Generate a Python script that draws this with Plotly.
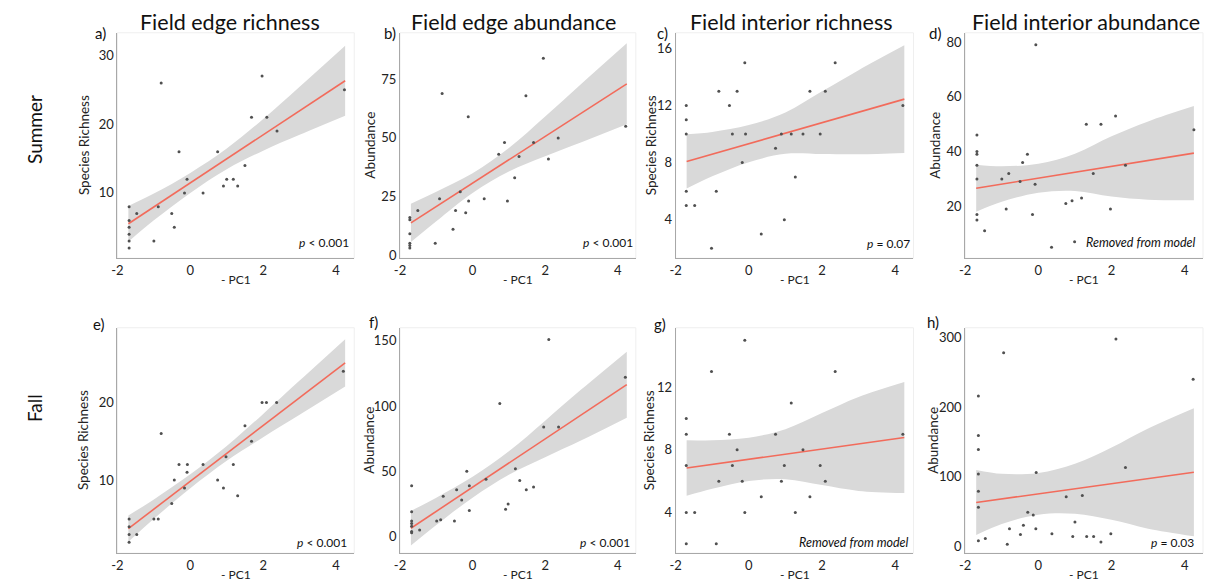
import plotly.graph_objects as go
import numpy as np

W, H = 1207, 586

# ---------------- data ----------------
col_titles = ["Field edge richness", "Field edge abundance",
              "Field interior richness", "Field interior abundance"]
row_titles = ["Summer", "Fall"]
panel_letters = ["a)", "b)", "c)", "d)", "e)", "f)", "g)", "h)"]
y_titles = ["Species Richness", "Abundance", "Species Richness", "Abundance",
            "Species Richness", "Abundance", "Species Richness", "Abundance"]
x_title = "- PC1"
p_labels = ["<i>p</i> < 0.001", "<i>p</i> < 0.001", "<i>p</i> = 0.07", None,
            "<i>p</i> < 0.001", "<i>p</i> < 0.001", None, "<i>p</i> = 0.03"]
removed_label = "<i>Removed from model</i>"
x_ticks = [-2, 0, 2, 4]
x_ticktext = ["-2", "0", "2", "4"]

a_x = [-0.80, 1.97, 1.68, 2.10, 2.38, 4.23, -0.31, 0.75, 1.50, -0.09, 1.00, 1.18, 0.91, 1.30,
       -0.16, 0.35, -1.68, -0.88, -1.47, -0.51, -1.68, -1.68, -0.44, -1.68, -1.68, -1.00, -1.68]
a_y = [26, 27, 21, 21, 19, 25, 16, 16, 14, 12, 12, 12, 11, 11,
       10, 10, 8, 8, 7, 7, 6, 5, 5, 4, 3, 3, 2]

b_x = [1.95, -0.84, 1.47, -0.12, 4.22, 2.36, 0.88, 1.68, 0.72, 1.28, 2.09, 1.16, -0.34, -0.91,
       0.32, -0.11, 0.96, -1.51, -0.47, -0.19, -1.73, -1.73, -1.73, -0.54, -1.03, -1.73, -1.73, -1.73]
b_y = [84, 69, 68, 59, 55, 50, 48, 48, 43, 42, 41, 33, 27, 24,
       24, 23, 23, 19, 19, 18, 16, 15, 9, 11, 5, 5, 4, 3]

c_x = [-0.11, 2.36, -0.82, -0.32, 1.67, 2.09, -1.71, -0.53, 4.21, -1.71, -1.71, -0.45, -0.09, 0.89,
       1.16, 1.48, 1.95, 0.73, -0.18, 1.27, -1.71, -0.89, -1.71, -1.48, 0.97, 0.34, -1.02]
c_y = [15, 15, 13, 13, 13, 13, 12, 12, 12, 11, 10, 10, 10, 10,
       10, 10, 10, 9, 8, 7, 6, 6, 5, 5, 4, 3, 2]

d_x = [-0.07, 2.11, 1.31, 1.71, 4.25, -1.68, -1.68, -1.68, -0.30, -0.43, -1.68, 2.38, -0.81, 1.50,
       -1.68, -1.00, -0.50, -0.09, 1.18, 0.92, 0.75, -0.88, 1.97, -1.68, -0.16, -1.68, -1.47, 0.36, 0.99]
d_y = [79, 53, 50, 50, 48, 46, 40, 39, 39, 36, 35, 35, 32, 32,
       30, 30, 29, 28, 23, 22, 21, 19, 19, 17, 17, 15, 11, 5, 7]

e_x = [4.20, 1.97, 2.09, 2.37, -0.80, 1.50, 1.68, 0.98, -0.31, -0.08, 0.35, 1.18, -0.09, -0.44,
       0.75, -0.16, 0.91, -0.51, 1.30, -1.68, -1.00, -0.88, -1.68, -1.68, -1.47, -1.68]
e_y = [24, 20, 20, 20, 16, 17, 15, 13, 12, 12, 12, 12, 11, 10,
       10, 9, 9, 7, 8, 5, 5, 5, 4, 3, 3, 2]

f_x = [2.10, 4.21, 0.75, 1.96, 2.37, 1.18, -0.16, 1.30, 0.37, -1.68, -0.09, 1.68, -0.44, 1.48,
       -0.81, -0.30, 0.98, 0.91, -0.09, -1.68, -0.99, -0.88, -0.50, -1.68, -1.68, -1.68, -1.46, -1.68, -1.68]
f_y = [151, 122, 102, 84, 84, 52, 50, 43, 44, 39, 39, 38, 36, 36,
       31, 28, 25, 21, 20, 19, 12, 13, 12, 12, 10, 8, 5, 4, 3]

g_x = [-0.11, -1.02, 2.36, 1.16, -1.71, -1.71, -0.53, 0.73, 4.21, -0.32, 1.48, -1.71, -0.45, 0.97,
       1.95, -0.82, -0.18, 0.89, 2.09, 0.34, 1.67, -1.71, -1.48, -0.11, 1.27, -1.71, -0.89]
g_y = [15, 13, 13, 11, 10, 9, 9, 9, 9, 8, 8, 7, 7, 7,
       7, 6, 6, 6, 6, 5, 5, 4, 4, 4, 4, 2, 2]

h_x = [2.12, -0.95, 4.23, -1.64, -1.64, -1.64, 2.38, -1.64, -0.06, -1.64, 0.76, 1.20, -1.64, -0.29,
       -0.14, 1.00, -0.41, -0.79, -0.07, -0.49, 0.37, 1.98, 0.94, 1.32, 1.51, -1.45, -1.64, 1.71, -0.85]
h_y = [298, 278, 240, 216, 159, 139, 113, 104, 106, 79, 71, 73, 56, 49,
       45, 35, 30, 25, 25, 17, 18, 18, 14, 14, 14, 11, 8, 6, 3]

# fitted lines (value at x = -1.7 and x = 4.25) and half-width of the grey band
fit_x = [-1.7, 4.25]
band_x = [-1.7, -1, 0, 1, 2, 3, 4.25]
a_fit = [5.51, 26.32];   a_half = [2.6, 1.95, 1.45, 1.5, 2.3, 3.5, 5.1]
b_fit = [13.7, 73.1];    b_half = [8.2, 6.3, 4.2, 5.0, 8.5, 12.5, 17.3]
c_fit = [8.08, 12.45];   c_half = [1.9, 1.55, 1.3, 1.45, 2.2, 2.95, 3.77]
d_fit = [26.6, 39.4];    d_half = [8.6, 6.5, 5.3, 6.8, 11.0, 14.3, 17.2]
e_fit = [3.76, 25.08];   e_half = [1.7, 1.25, 0.9, 0.95, 1.5, 2.2, 3.05]
f_fit = [6.43, 116.4];   f_half = [13.3, 10.5, 8.0, 9.0, 14.0, 19.5, 25.3]
g_fit = [6.84, 8.79];    g_half = [1.77, 1.55, 1.38, 1.6, 2.3, 3.0, 3.55]
h_fit = [62.9, 106.35];  h_half = [46.7, 36.0, 30.0, 36.0, 52.0, 72.0, 92.0]

y_ranges = [[0.5, 33.3], [-1.4, 94.9], [1.3, 17.1], [1, 83.4],
            [0.6, 29.6], [-12.7, 160], [1.4, 15.8], [-10, 314]]
y_ticks = [[10, 20, 30], [0, 25, 50, 75], [4, 8, 12, 16], [20, 40, 60, 80],
           [10, 20], [0, 50, 100, 150], [4, 8, 12], [0, 100, 200, 300]]

xs_all = [a_x, b_x, c_x, d_x, e_x, f_x, g_x, h_x]
ys_all = [a_y, b_y, c_y, d_y, e_y, f_y, g_y, h_y]
fits = [a_fit, b_fit, c_fit, d_fit, e_fit, f_fit, g_fit, h_fit]
halves = [a_half, b_half, c_half, d_half, e_half, f_half, g_half, h_half]

# ---------------- layout geometry (pixels) ----------------
col_px = [(112, 350), (396, 633), (673, 912), (964, 1203)]
row_px = [(33, 260), (330, 557)]
ytitle_off = [34, 31, 25, 31, 34, 31, 26, 32]
letter_px = [(87, 33), (378, 33), (652, 33), (926, 33),
             (85, 326), (363, 324), (649, 326), (924, 324)]
p_right = [347, 632, 911, None, 345, 629, None, 1196]
p_mid = [244, 244, 245, None, 546, 546, None, 546]

FONT = "Lato, 'Open Sans', sans-serif"
fig = go.Figure()
layout = dict(width=W, height=H, margin=dict(l=0, r=0, t=0, b=0),
              paper_bgcolor="white", plot_bgcolor="white", showlegend=False,
              font=dict(family=FONT, color="#222"))
annotations = []
shapes = []

def px_x(p):
    return p / W

def px_y(p):
    return 1 - p / H

for i in range(8):
    r, c = divmod(i, 4)
    k = "" if i == 0 else str(i + 1)
    xa, ya = "x" + k, "y" + k
    x0, x1 = col_px[c]
    y0, y1 = row_px[r]
    xdom = [px_x(x0), px_x(x1)]
    ydom = [px_y(y1), px_y(y0)]

    bx = np.array(band_x)
    line_at = np.interp(bx, fit_x, fits[i])
    hw = np.array(halves[i])
    lo, hi = line_at - hw, line_at + hw

    fig.add_trace(go.Scatter(x=bx, y=lo, mode="lines", line=dict(width=0, shape="spline"),
                             xaxis=xa, yaxis=ya, hoverinfo="skip"))
    fig.add_trace(go.Scatter(x=bx, y=hi, mode="lines", line=dict(width=0, shape="spline"),
                             fill="tonexty", fillcolor="#d9d9d9",
                             xaxis=xa, yaxis=ya, hoverinfo="skip"))
    fig.add_trace(go.Scatter(x=fit_x, y=fits[i], mode="lines",
                             line=dict(color="#f26b5b", width=1.6), xaxis=xa, yaxis=ya))
    fig.add_trace(go.Scatter(x=xs_all[i], y=ys_all[i], mode="markers",
                             marker=dict(color="#505050", size=3), xaxis=xa, yaxis=ya))

    layout["xaxis" + k] = dict(domain=xdom, anchor=ya, range=[-2, 4.5],
                               tickvals=x_ticks, ticktext=x_ticktext,
                               showline=True, linecolor="#a8a8a8", linewidth=1,
                               showgrid=False, zeroline=False, ticks="",
                               tickfont=dict(size=13, color="#222"))
    layout["yaxis" + k] = dict(domain=ydom, anchor=xa, range=y_ranges[i], tickvals=y_ticks[i],
                               showline=True, linecolor="#a8a8a8", linewidth=1,
                               showgrid=False, zeroline=False, ticks="",
                               tickfont=dict(size=13, color="#222"))

    # faint panel frame
    shapes.append(dict(type="rect", xref="paper", yref="paper",
                       x0=xdom[0], x1=xdom[1], y0=ydom[0], y1=ydom[1],
                       line=dict(color="#efefef", width=1), layer="below"))

    # axis titles
    annotations.append(dict(text=x_title, xref="paper", yref="paper",
                            x=px_x((x0 + x1) / 2), y=px_y(y1 + 21), xanchor="center",
                            yanchor="middle", showarrow=False, font=dict(size=12, color="#222")))
    annotations.append(dict(text=y_titles[i], xref="paper", yref="paper",
                            x=px_x(x0 - ytitle_off[i]), y=px_y((y0 + y1) / 2), xanchor="center",
                            yanchor="middle", textangle=-90, showarrow=False,
                            font=dict(size=13.5, color="#222")))

    # panel letter
    lx, ly = letter_px[i]
    annotations.append(dict(text=panel_letters[i], xref="paper", yref="paper",
                            x=px_x(lx), y=px_y(ly), xanchor="left", yanchor="middle",
                            showarrow=False, font=dict(size=15, color="#111")))
    # p value
    if p_labels[i]:
        annotations.append(dict(text=p_labels[i], xref="paper", yref="paper",
                                x=px_x(p_right[i]), y=px_y(p_mid[i]),
                                xanchor="right", yanchor="middle",
                                showarrow=False, font=dict(size=12, color="#111")))

# "Removed from model" notes (panels d and g)
annotations.append(dict(text=removed_label, xref="paper", yref="paper",
                        x=px_x(1198), y=px_y(244), xanchor="right", yanchor="middle",
                        showarrow=False, font=dict(size=12.5, color="#111")))
annotations.append(dict(text=removed_label, xref="paper", yref="paper",
                        x=px_x(910), y=px_y(546), xanchor="right", yanchor="middle",
                        showarrow=False, font=dict(size=12.5, color="#111")))

# column titles
col_centers = [225, 510, 789, 1085]
for t, cx in zip(col_titles, col_centers):
    annotations.append(dict(text=t, xref="paper", yref="paper", x=px_x(cx), y=px_y(22),
                            xanchor="center", yanchor="middle", showarrow=False,
                            font=dict(size=21.5, color="#111")))
# row titles
for t, cy in zip(row_titles, [130, 411]):
    annotations.append(dict(text=t, xref="paper", yref="paper", x=px_x(28), y=px_y(cy),
                            xanchor="center", yanchor="middle", textangle=-90, showarrow=False,
                            font=dict(size=19, color="#111")))

layout["annotations"] = annotations
layout["shapes"] = shapes
fig.update_layout(**layout)
fig.write_html("out.html", config={"displayModeBar": False},
               post_script="document.body.style.margin='0';document.body.style.overflow='hidden';")
